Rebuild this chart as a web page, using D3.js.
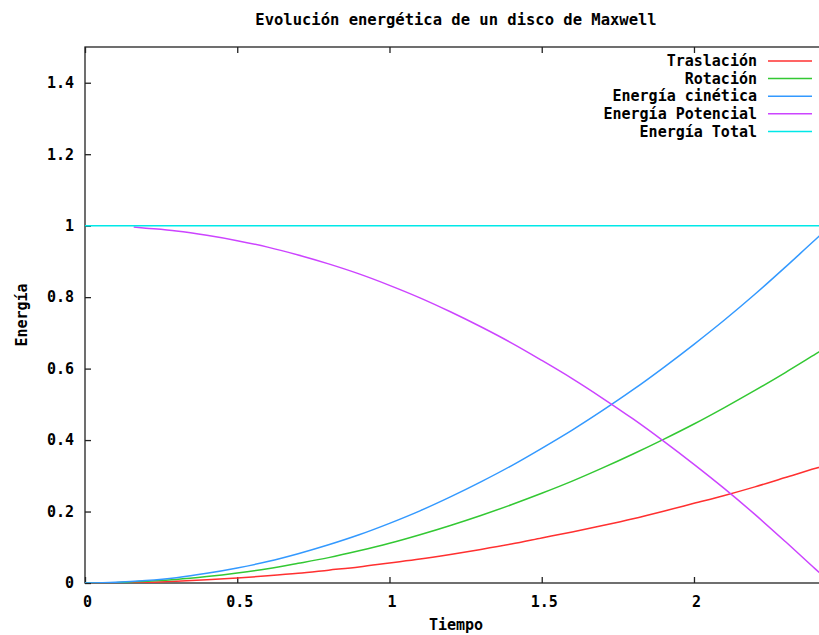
<!DOCTYPE html>
<html>
<head>
<meta charset="utf-8">
<script src="https://cdn.jsdelivr.net/npm/d3@7"></script>
<style>
  html, body { margin: 0; padding: 0; background: #fff; overflow: hidden; }
  svg { display: block; }
  text { font-family: "DejaVu Sans Mono", "Liberation Mono", monospace; font-weight: bold; fill: #000; }
</style>
</head>
<body>
<script>
// ---- data ----
const titleText = "Evolución energética de un disco de Maxwell";
const xLabel = "Tiempo";
const yLabel = "Energía";
const xTicks = [0, 0.5, 1, 1.5, 2];
const yTicks = [0, 0.2, 0.4, 0.6, 0.8, 1.0, 1.2, 1.4];
const seriesNames = ["Traslación", "Rotación", "Energía cinética", "Energía Potencial", "Energía Total"];
const seriesColors = ["#ff3030", "#33c833", "#3399ff", "#cc44ff", "#00e8e8"];

const time = [0, 0.1, 0.2, 0.3, 0.4, 0.5, 0.6, 0.7, 0.8, 0.9, 1.0, 1.1, 1.2, 1.3, 1.4, 1.5, 1.6, 1.7, 1.8, 1.9, 2.0, 2.1, 2.2, 2.3, 2.4, 2.45];
const traslacion = [0, 0.001, 0.002, 0.005, 0.009, 0.014, 0.020, 0.027, 0.036, 0.045, 0.056, 0.067, 0.080, 0.094, 0.109, 0.126, 0.143, 0.161, 0.180, 0.201, 0.223, 0.245, 0.269, 0.295, 0.321, 0.333];
const rotacion = [0, 0.001, 0.005, 0.010, 0.018, 0.028, 0.040, 0.055, 0.071, 0.090, 0.111, 0.135, 0.161, 0.189, 0.219, 0.251, 0.285, 0.322, 0.361, 0.402, 0.445, 0.491, 0.539, 0.589, 0.641, 0.667];
const cinetica = [0, 0.002, 0.007, 0.015, 0.027, 0.042, 0.060, 0.082, 0.107, 0.135, 0.167, 0.202, 0.241, 0.283, 0.328, 0.377, 0.428, 0.483, 0.541, 0.603, 0.668, 0.736, 0.808, 0.884, 0.962, 1.000];
const potTime = [0.16, 0.2, 0.3, 0.4, 0.5, 0.6, 0.7, 0.8, 0.9, 1.0, 1.1, 1.2, 1.3, 1.4, 1.5, 1.6, 1.7, 1.8, 1.9, 2.0, 2.1, 2.2, 2.3, 2.4, 2.45];
const potencial = [0.996, 0.993, 0.985, 0.973, 0.958, 0.940, 0.918, 0.893, 0.865, 0.833, 0.798, 0.759, 0.717, 0.672, 0.623, 0.572, 0.517, 0.459, 0.397, 0.332, 0.264, 0.192, 0.116, 0.038, 0.0];
const totTime = [0, 2.45];
const total = [1, 1];

// ---- layout ----
const W = 819, H = 635;
const mLeft = 85, mRight = 831, mTop = 47, mBottom = 583;

const svg = d3.select("body").append("svg").attr("width", W).attr("height", H);

const x = d3.scaleLinear().domain([0, 2.45]).range([mLeft, mRight]);
const y = d3.scaleLinear().domain([0, 1.5]).range([mBottom, mTop]);

// frame
svg.append("rect").attr("x", mLeft).attr("y", mTop).attr("width", mRight - mLeft).attr("height", mBottom - mTop)
  .attr("fill", "none").attr("stroke", "#222").attr("stroke-width", 1.3);

// axes (gnuplot-style inward ticks)
const yAxis = d3.axisLeft(y).tickValues(yTicks).tickSize(-6).tickPadding(11)
  .tickFormat(d => d === 0 ? "0" : (d === 1 ? "1" : d3.format(".1f")(d)));
const gy = svg.append("g").attr("transform", `translate(${mLeft},0)`).call(yAxis);
const xAxis = d3.axisBottom(x).tickValues(xTicks).tickSize(-6).tickPadding(13)
  .tickFormat(d => d3.format("~g")(d));
const gx = svg.append("g").attr("transform", `translate(0,${mBottom})`).call(xAxis);
const xTop = d3.axisTop(x).tickValues(xTicks).tickSize(-6).tickFormat("");
const gt = svg.append("g").attr("transform", `translate(0,${mTop})`).call(xTop);
[gx, gy, gt].forEach(g => {
  g.select(".domain").remove();
  g.selectAll(".tick line").attr("stroke", "#222").attr("stroke-width", 1.3);
  g.selectAll("text").style("font-size", "15px").style("font-family", '"DejaVu Sans Mono", monospace').style("font-weight", "bold").attr("fill", "#000");
});
gx.selectAll(".tick text").attr("dx", 2);

// series
const line = d3.line().curve(d3.curveMonotoneX).x(d => x(d[0])).y(d => y(d[1]));
svg.append("clipPath").attr("id", "clip").append("rect")
  .attr("x", mLeft).attr("y", mTop).attr("width", mRight - mLeft).attr("height", mBottom - mTop);
const plot = svg.append("g").attr("clip-path", "url(#clip)");

const seriesData = [
  d3.zip(time, traslacion),
  d3.zip(time, rotacion),
  d3.zip(time, cinetica),
  d3.zip(potTime, potencial),
  d3.zip(totTime, total)
];
seriesData.forEach((d, i) => {
  plot.append("path").datum(d).attr("d", line)
    .attr("fill", "none").attr("stroke", seriesColors[i]).attr("stroke-width", 1.5);
});

// legend
const legendY0 = 61, legendDy = 17.6;
seriesNames.forEach((name, i) => {
  const yy = legendY0 + i * legendDy;
  svg.append("text").attr("x", 757).attr("y", yy).attr("dy", "0.35em")
    .attr("text-anchor", "end").style("font-size", "15px").text(name);
  svg.append("line").attr("x1", 768).attr("x2", 812).attr("y1", yy).attr("y2", yy)
    .attr("stroke", seriesColors[i]).attr("stroke-width", 1.5);
});

// title and axis labels
svg.append("text").attr("x", 456).attr("y", 20).attr("dy", "0.35em").attr("text-anchor", "middle")
  .style("font-size", "15.5px").text(titleText);
svg.append("text").attr("x", 456).attr("y", 625).attr("dy", "0.35em").attr("text-anchor", "middle")
  .style("font-size", "15px").text(xLabel);
svg.append("text").attr("transform", "translate(22,315) rotate(-90)").attr("dy", "0.35em")
  .attr("text-anchor", "middle").style("font-size", "15px").text(yLabel);
</script>
</body>
</html>
